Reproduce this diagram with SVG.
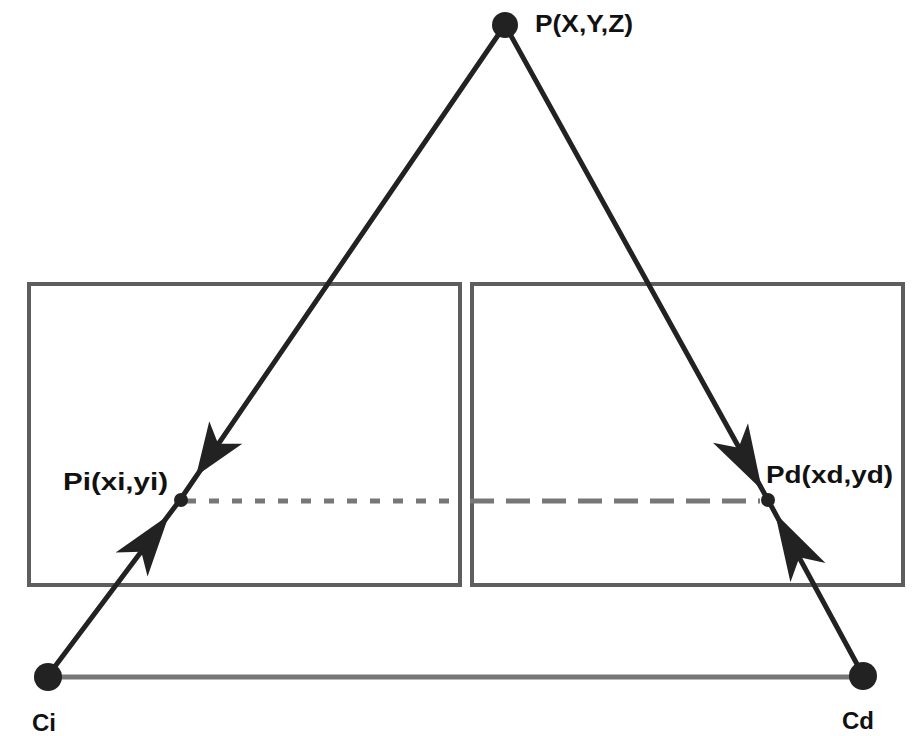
<svg xmlns="http://www.w3.org/2000/svg" width="912" height="736" viewBox="0 0 912 736">
<style>
.frame{fill:none;stroke:#5e5e5e;stroke-width:4}
.ray{stroke:#222;stroke-width:5;fill:none;stroke-linecap:round}
.base{stroke:#777;stroke-width:5;fill:none}
.dash{stroke:#777;stroke-width:5;fill:none}
.pt{fill:#222}
.ah{fill:#222}
.lbl{font-family:"Liberation Sans",Arial,sans-serif;font-weight:bold;font-size:24px;fill:#111}
</style>
<defs>
<path id="ah" d="M0,0 L-62,-20 L-46,0 L-62,20 Z"/>
</defs>
<rect width="912" height="736" fill="#fff"/>
<g id="frame-left"><rect class="frame" x="29" y="284" width="431" height="301"/></g>
<g id="frame-right"><rect class="frame" x="472" y="284" width="431" height="301"/></g>
<g id="connectors">
<line class="base" x1="47" y1="677" x2="864" y2="677"/>
<line class="dash" x1="186" y1="501" x2="462" y2="501" stroke-dasharray="10 13"/>
<line class="dash" x1="470" y1="501" x2="760" y2="501" stroke-dasharray="24 12"/>
<line class="ray" x1="505" y1="25" x2="180" y2="500"/>
<line class="ray" x1="47" y1="677" x2="180" y2="500"/>
<line class="ray" x1="505" y1="25" x2="768" y2="500"/>
<line class="ray" x1="864" y1="677" x2="768" y2="500"/>
<use href="#ah" class="ah" transform="translate(196,476) rotate(124.4) scale(0.85,1)"/>
<use href="#ah" class="ah" transform="translate(169,515) rotate(-52.9)"/>
<use href="#ah" class="ah" transform="translate(762,490) rotate(61) scale(1.05,1)"/>
<use href="#ah" class="ah" transform="translate(775,513) rotate(-118.9) scale(1.1,1)"/>
</g>
<g id="node-P"><circle class="pt" cx="505" cy="25" r="13"/><text class="lbl" x="535" y="32" textLength="98" lengthAdjust="spacingAndGlyphs">P(X,Y,Z)</text></g>
<g id="node-Pi"><circle class="pt" cx="181" cy="500" r="7"/><text class="lbl" x="63" y="490" textLength="105" lengthAdjust="spacingAndGlyphs">Pi(xi,yi)</text></g>
<g id="node-Pd"><circle class="pt" cx="768" cy="500" r="7"/><text class="lbl" x="766" y="483" textLength="127" lengthAdjust="spacingAndGlyphs">Pd(xd,yd)</text></g>
<g id="node-Ci"><circle class="pt" cx="48" cy="677" r="14"/><text class="lbl" x="32" y="731">Ci</text></g>
<g id="node-Cd"><circle class="pt" cx="863" cy="676" r="14"/><text class="lbl" x="842" y="729">Cd</text></g>
</svg>
